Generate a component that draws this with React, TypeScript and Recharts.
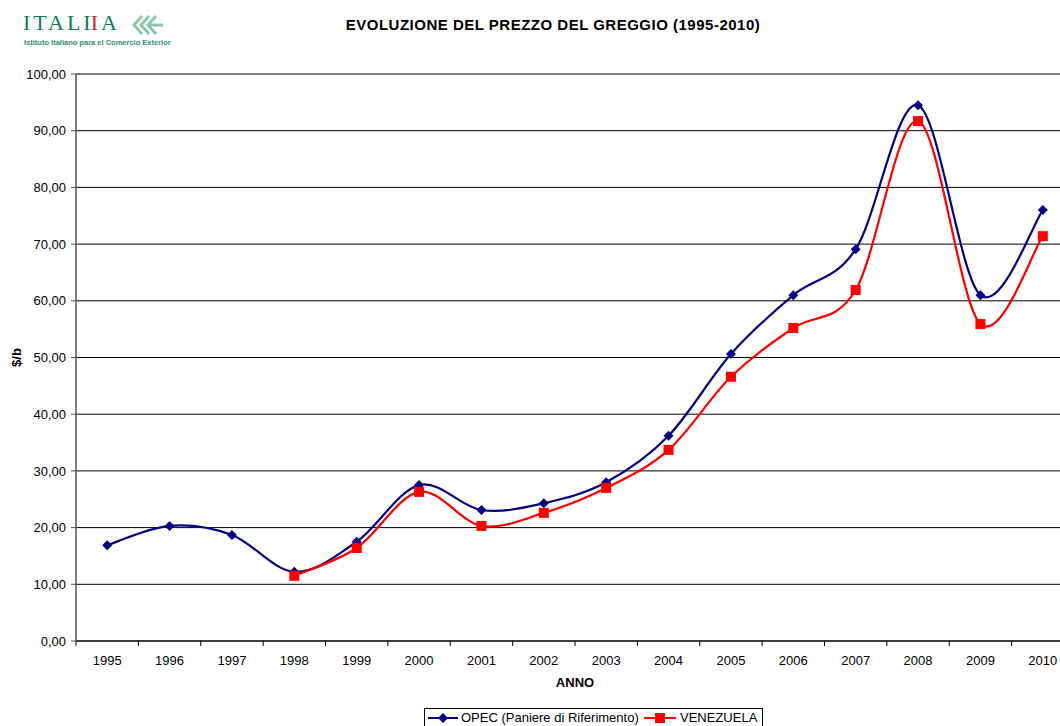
import { LineChart, Line, XAxis, YAxis, CartesianGrid } from 'recharts'

const years = ['1995', '1996', '1997', '1998', '1999', '2000', '2001', '2002', '2003', '2004', '2005', '2006', '2007', '2008', '2009', '2010']
const opec = [16.9, 20.3, 18.7, 12.2, 17.5, 27.5, 23.1, 24.3, 28.0, 36.2, 50.6, 61.0, 69.1, 94.5, 61.0, 76.0]
const venezuela = [null, null, null, 11.5, 16.4, 26.3, 20.3, 22.6, 27.0, 33.7, 46.6, 55.2, 61.9, 91.7, 55.9, 71.4]
const yTicks = [0, 10, 20, 30, 40, 50, 60, 70, 80, 90, 100]

const data = years.map((y, i) => ({ anno: y, opec: opec[i], venezuela: venezuela[i] }))

const NAVY = '#000080'
const RED = '#ff0000'
const Y_AXIS_W = 76
const PLOT_W = 998
const BAND = PLOT_W / years.length

// excel-ish smoothing: catmull-rom bezier, control points at 1/6
const excelCurve = (context: any) => {
  let pts: number[][] = []
  return {
    areaStart() {},
    areaEnd() {},
    lineStart() { pts = [] },
    point(x: number, y: number) { pts.push([+x, +y]) },
    lineEnd() {
      if (!pts.length) return
      context.moveTo(pts[0][0], pts[0][1])
      if (pts.length === 1) { context.lineTo(pts[0][0], pts[0][1]); return }
      for (let i = 0; i < pts.length - 1; i++) {
        const p0 = pts[i - 1] || pts[i]
        const p1 = pts[i]
        const p2 = pts[i + 1]
        const p3 = pts[i + 2] || pts[i + 1]
        context.bezierCurveTo(
          p1[0] + (p2[0] - p0[0]) / 6, p1[1] + (p2[1] - p0[1]) / 6,
          p2[0] - (p3[0] - p1[0]) / 6, p2[1] - (p3[1] - p1[1]) / 6,
          p2[0], p2[1]
        )
      }
    },
  }
}

const Diamond = (props: any) => {
  const { cx, cy, index } = props
  if (cx == null || cy == null || props.value == null) return <g key={'d' + index} />
  return <path key={'d' + index} d={`M${cx},${cy - 5}L${cx + 5},${cy}L${cx},${cy + 5}L${cx - 5},${cy}Z`} fill={NAVY} />
}

const Square = (props: any) => {
  const { cx, cy, index } = props
  if (cx == null || cy == null || props.value == null) return <g key={'s' + index} />
  return <rect key={'s' + index} x={cx - 5} y={cy - 5} width={10} height={10} fill={RED} />
}

const YearTick = (props: any) => {
  const { x, y, payload, index } = props
  return (
    <g>
      <line x1={x - BAND / 2} x2={x - BAND / 2} y1={y} y2={y + 5} stroke="#000" />
      {index === years.length - 1 && <line x1={x + BAND / 2} x2={x + BAND / 2} y1={y} y2={y + 5} stroke="#000" />}
      <text x={x} y={y + 24} textAnchor="middle" fontSize={13} fill="#000">{payload.value}</text>
    </g>
  )
}

const fmt = (v: number) => v.toFixed(2).replace('.', ',')

export default function App() {
  return (
    <div style={{ position: 'absolute', left: 0, top: 0, width: 1060, height: 726, overflow: 'hidden', background: '#fff', fontFamily: '"Liberation Sans", Arial, sans-serif' }}>
      {/* logo */}
      <div style={{ position: 'absolute', left: 23, top: 10, fontFamily: '"Liberation Serif", "DejaVu Serif", serif', fontSize: 22, letterSpacing: 3, color: '#137a5c', lineHeight: '26px' }}>
        ITAL<span style={{ letterSpacing: 0 }}>I</span><span style={{ color: '#d0202a' }}>I</span>A
      </div>
      <svg style={{ position: 'absolute', left: 130, top: 14 }} width={34} height={22}>
        <g fill="none" stroke="#8cc7a6" strokeWidth={3}>
          <polyline points="12,2 4,11 12,20" />
          <polyline points="19,2 11,11 19,20" />
          <polyline points="26,2 18,11 26,20" />
          <line x1={18} y1={11} x2={33} y2={11} />
        </g>
      </svg>
      <div style={{ position: 'absolute', left: 24, top: 38, fontSize: 7.5, fontWeight: 'bold', color: '#2f8f6a', whiteSpace: 'nowrap' }}>
        Istituto Italiano para el Comercio Exterior
      </div>

      <div style={{ position: 'absolute', left: 0, top: 16, width: 1106, textAlign: 'center', fontSize: 15, letterSpacing: 0.5, fontWeight: 'bold', color: '#000' }}>
        EVOLUZIONE DEL PREZZO DEL GREGGIO (1995-2010)
      </div>

      <div style={{ position: 'absolute', left: 0, top: 0 }}>
        <LineChart width={Y_AXIS_W + PLOT_W} height={726} data={data} margin={{ top: 74, right: 0, bottom: 35, left: 0 }}>
          <CartesianGrid vertical={false} stroke="#000" strokeWidth={1} />
          <XAxis
            dataKey="anno"
            interval={0}
            padding={{ left: BAND / 2, right: BAND / 2 }}
            tickLine={false}
            tickSize={0}
            tickMargin={0}
            height={50}
            axisLine={{ stroke: '#000' }}
            tick={YearTick}
            label={{ value: 'ANNO', position: 'insideBottom', offset: 4, fontSize: 13, fontWeight: 'bold', fill: '#000' }}
          />
          <YAxis
            width={Y_AXIS_W}
            domain={[0, 100]}
            ticks={yTicks}
            tickFormatter={fmt}
            tickSize={5}
            tickMargin={5}
            tick={{ fontSize: 13, fill: '#000' }}
            tickLine={{ stroke: '#555' }}
            axisLine={{ stroke: '#555', strokeWidth: 1.5 }}
            label={{
              content: (p: any) => {
                const vb = p.viewBox || { x: 0, y: 74, height: 567 }
                const cx = vb.x + 16
                const cy = vb.y + vb.height / 2
                return <text x={cx} y={cy} transform={`rotate(-90, ${cx}, ${cy})`} textAnchor="middle" dominantBaseline="central" fontSize={13} fontWeight="bold" fill="#000">$/b</text>
              },
            }}
          />
          <Line dataKey="opec" type={excelCurve as any} stroke={NAVY} strokeWidth={2.2} dot={Diamond} activeDot={false} isAnimationActive={false} />
          <Line dataKey="venezuela" type={excelCurve as any} stroke={RED} strokeWidth={2.2} dot={Square} activeDot={false} isAnimationActive={false} />
        </LineChart>
      </div>

      {/* legend */}
      <div style={{ position: 'absolute', left: 424, top: 708, width: 339, height: 22, border: '1px solid #000', boxSizing: 'border-box', fontSize: 13, color: '#000', whiteSpace: 'nowrap' }}>
        <svg style={{ position: 'absolute', left: 3, top: 3 }} width={30} height={12}>
          <line x1={0} x2={30} y1={6} y2={6} stroke={NAVY} strokeWidth={2} />
          <path d="M15,1L20,6L15,11L10,6Z" fill={NAVY} />
        </svg>
        <span style={{ position: 'absolute', left: 36, top: 1 }}>OPEC (Paniere di Riferimento)</span>
        <svg style={{ position: 'absolute', left: 219, top: 3 }} width={32} height={12}>
          <line x1={0} x2={32} y1={6} y2={6} stroke={RED} strokeWidth={2} />
          <rect x={11} y={1} width={10} height={10} fill={RED} />
        </svg>
        <span style={{ position: 'absolute', left: 255, top: 1 }}>VENEZUELA</span>
      </div>
    </div>
  )
}
